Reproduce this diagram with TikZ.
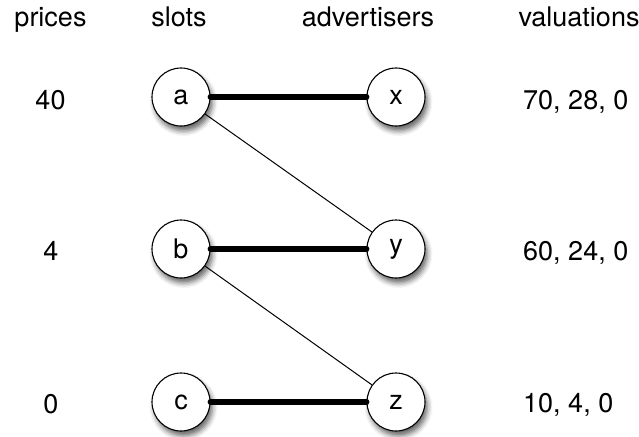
\documentclass[tikz,border=0pt]{standalone}
\usepackage{fontspec}
\setmainfont{TeX Gyre Heros}
\usetikzlibrary{shadows.blur}
\begin{document}
\begin{tikzpicture}[x=1pt,y=-1pt,
  every node/.style={font=\fontsize{27}{32}\selectfont, inner sep=0pt},
  vert/.style={circle, draw=black, line width=1.1pt, fill=white, minimum size=58pt,
    blur shadow={shadow xshift=2.5pt, shadow yshift=-5pt, shadow blur radius=5pt, shadow opacity=60}},
  match/.style={line width=6pt, line cap=round},
  edge/.style={line width=1pt}]
\useasboundingbox (0,0) rectangle (639,436);
% headers
\node[anchor=base] (hp) at (50.5,27) {prices};
\node[anchor=base] (hs) at (179,27) {slots};
\node[anchor=base] (ha) at (368,27) {advertisers};
\node[anchor=base] (hv) at (579,27) {valuations};
% prices
\node[anchor=base] (p1) at (50.5,109) {40};
\node[anchor=base] (p2) at (51,260) {4};
\node[anchor=base] (p3) at (51,413) {0};
% valuations
\node[anchor=base west] (v1) at (523,109) {70, 28, 0};
\node[anchor=base west] (v2) at (523,260) {60, 24, 0};
\node[anchor=base west] (v3) at (523,412) {10, 4, 0};
% vertices
\node[vert] (a) at (181,97) {a};
\node[vert] (b) at (181,249) {b};
\node[vert] (c) at (181,402) {c};
\node[vert] (x) at (396,97) {x};
\node[vert] (y) at (396,249) {y};
\node[vert] (z) at (396,402) {z};
% edges
\draw[match] (a) -- (x);
\draw[match] (b) -- (y);
\draw[match] (c) -- (z);
\draw[edge] (a) -- (y);
\draw[edge] (b) -- (z);
\end{tikzpicture}
\end{document}
